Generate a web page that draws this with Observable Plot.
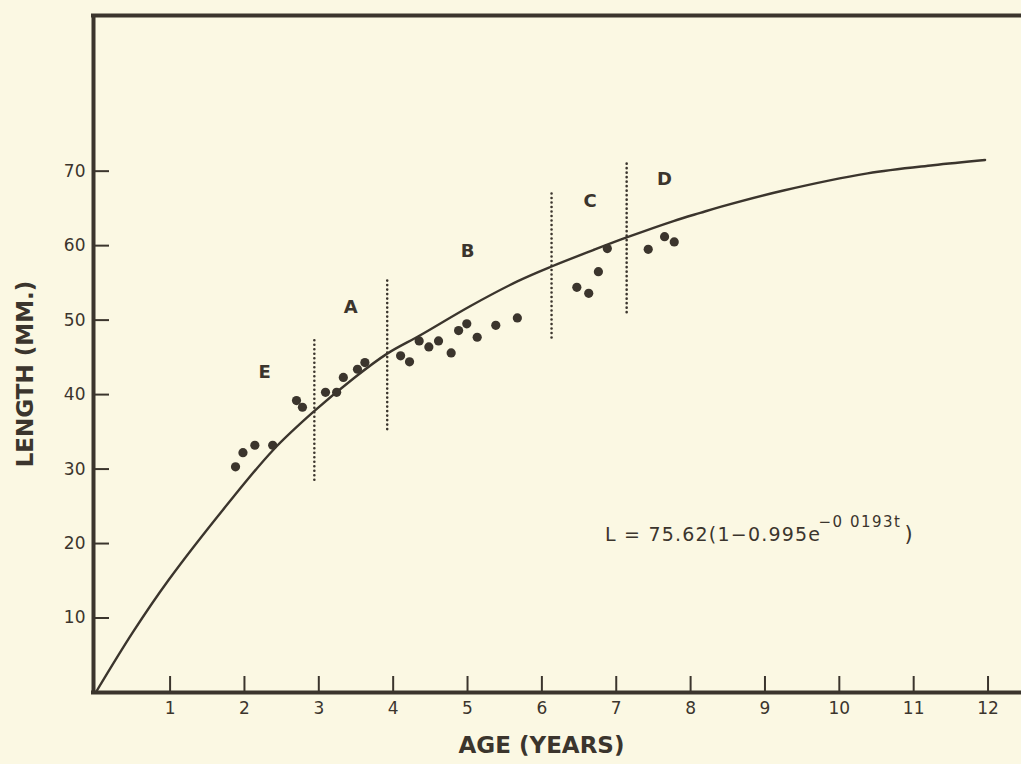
<!DOCTYPE html>
<html>
<head>
<meta charset="utf-8">
<script src="https://cdn.jsdelivr.net/npm/d3@7"></script>
<script src="https://cdn.jsdelivr.net/npm/@observablehq/plot@0.6"></script>
<style>
  html, body { margin: 0; padding: 0; background: #fbf8e3; }
  #chart svg { display: block; }
  .eq-main text { letter-spacing: 1.2px; }
  .eq-sup text { letter-spacing: 1.5px; }
</style>
</head>
<body>
<div id="chart"></div>
<script>
// Observed lengths (age in years, length in mm)
const obsAge = [1.88,1.98,2.14,2.38,2.70,2.78,3.09,3.24,3.33,3.52,3.62,4.10,4.22,4.35,4.48,4.61,4.78,4.88,4.99,5.13,5.38,5.67,6.47,6.63,6.76,6.88,7.43,7.65,7.78];
const obsLength = [30.3,32.2,33.2,33.2,39.2,38.3,40.3,40.3,42.3,43.4,44.3,45.2,44.4,47.2,46.4,47.2,45.6,48.6,49.5,47.7,49.3,50.3,54.4,53.6,56.5,59.6,59.5,61.2,60.5];

// Fitted growth curve as drawn
const curveAge = [0,0.5,0.98,1.79,2.39,2.93,3.47,3.92,4.37,5.04,5.67,6.13,6.69,7.14,7.77,8.13,8.40,9.25,10.38,11.26,11.96];
const curveLength = [0,8.1,15.1,25.5,32.6,37.7,42.2,45.5,48.0,51.9,55.2,57.2,59.4,61.1,63.3,64.4,65.2,67.4,69.7,70.8,71.5];

// Group boundaries (dotted lines)
const boundAge = [2.94,3.92,6.13,7.14];
const boundLow = [28.5,35.3,47.6,51.0];
const boundHigh = [47.6,55.6,67.0,71.0];

// Group labels
const groupNames = ["E","A","B","C","D"];
const groupAge = [2.27,3.43,5.0,6.65,7.65];
const groupLength = [43.0,51.7,59.2,66.0,68.9];

// Axis ticks
const xTicks = [1,2,3,4,5,6,7,8,9,10,11,12];
const yTicks = [10,20,30,40,50,60,70];

// Equation annotation
const eqMain = "L = 75.62(1\u22120.995e";
const eqSup = "\u22120 0193t";
const eqClose = ")";
const eqAge = [6.85, 9.72, 10.93];
const eqLength = [21.1, 22.9, 21.3];

const xDomain = [-0.03, 12.45];
const yDomain = [0, 90.9];
const W = 1021, H = 764;
const mL = 93, mR = 0, mT = 15, mB = 72;
const pxX = (W - mL - mR) / (xDomain[1] - xDomain[0]);
const pxY = (H - mT - mB) / (yDomain[1] - yDomain[0]);

const ink = "#3b352d";
const font = "DejaVu Sans";

const pts = obsAge.map((a, i) => ({age: a, len: obsLength[i]}));
const curve = curveAge.map((a, i) => ({age: a, len: curveLength[i]}));
const bounds = boundAge.map((a, i) => ({age: a, lo: boundLow[i], hi: boundHigh[i]}));
const groups = groupNames.map((n, i) => ({name: n, age: groupAge[i], len: groupLength[i]}));

const chart = Plot.plot({
  width: W, height: H,
  marginLeft: mL, marginRight: mR, marginTop: mT, marginBottom: mB,
  style: {background: "#fbf8e3", fontFamily: font, color: ink},
  x: {domain: xDomain, axis: null},
  y: {domain: yDomain, axis: null},
  marks: [
    // frame
    Plot.ruleY([yDomain[1]], {stroke: ink, strokeWidth: 4, x1: xDomain[0] - 2/pxX, x2: xDomain[1]}),
    Plot.ruleX([xDomain[0]], {stroke: ink, strokeWidth: 4, y1: 0, y2: yDomain[1]}),
    Plot.ruleY([0], {stroke: ink, strokeWidth: 4, x1: xDomain[0] - 2/pxX, x2: xDomain[1]}),
    // x ticks
    Plot.ruleX(xTicks, {stroke: ink, strokeWidth: 2, y1: 0, y2: 16 / pxY}),
    Plot.text(xTicks, {x: d => d, frameAnchor: "bottom", dy: 21, fill: ink, fontSize: 17, fontFamily: font}),
    // y ticks
    Plot.ruleY(yTicks, {stroke: ink, strokeWidth: 2, x1: xDomain[0], x2: xDomain[0] + 16 / pxX}),
    Plot.text(yTicks, {y: d => d, frameAnchor: "left", dx: -8, textAnchor: "end", fill: ink, fontSize: 17, fontFamily: font}),
    // axis labels
    Plot.text(["AGE (YEARS)"], {frameAnchor: "bottom", dy: 60, dx: -16, textAnchor: "middle", fill: ink, fontSize: 23, fontWeight: "bold", fontFamily: font}),
    Plot.text(["LENGTH (MM.)"], {frameAnchor: "left", dx: -68, dy: 20, rotate: -90, textAnchor: "middle", fill: ink, fontSize: 23, fontWeight: "bold", fontFamily: font}),
    // group boundaries
    Plot.ruleX(bounds, {x: "age", y1: "lo", y2: "hi", stroke: ink, strokeWidth: 2.6, strokeDasharray: "0,4.5", strokeLinecap: "round"}),
    // group labels
    Plot.text(groups, {x: "age", y: "len", text: "name", fill: ink, fontSize: 18, fontWeight: 600, fontFamily: font}),
    // curve
    Plot.line(curve, {x: "age", y: "len", stroke: ink, strokeWidth: 2.4, curve: "catmull-rom"}),
    // observations
    Plot.dot(pts, {x: "age", y: "len", r: 4.6, fill: ink, stroke: "none"}),
    // equation
    Plot.text([eqMain], {x: eqAge[0], y: eqLength[0], textAnchor: "start", fill: ink, fontSize: 19, fontFamily: font, className: "eq-main"}),
    Plot.text([eqSup], {x: eqAge[1], y: eqLength[1], textAnchor: "start", fill: ink, fontSize: 15, fontFamily: font, className: "eq-sup"}),
    Plot.text([eqClose], {x: eqAge[2], y: eqLength[2], textAnchor: "middle", fill: ink, fontSize: 21, fontFamily: font})
  ]
});
document.getElementById("chart").appendChild(chart);
</script>
</body>
</html>
